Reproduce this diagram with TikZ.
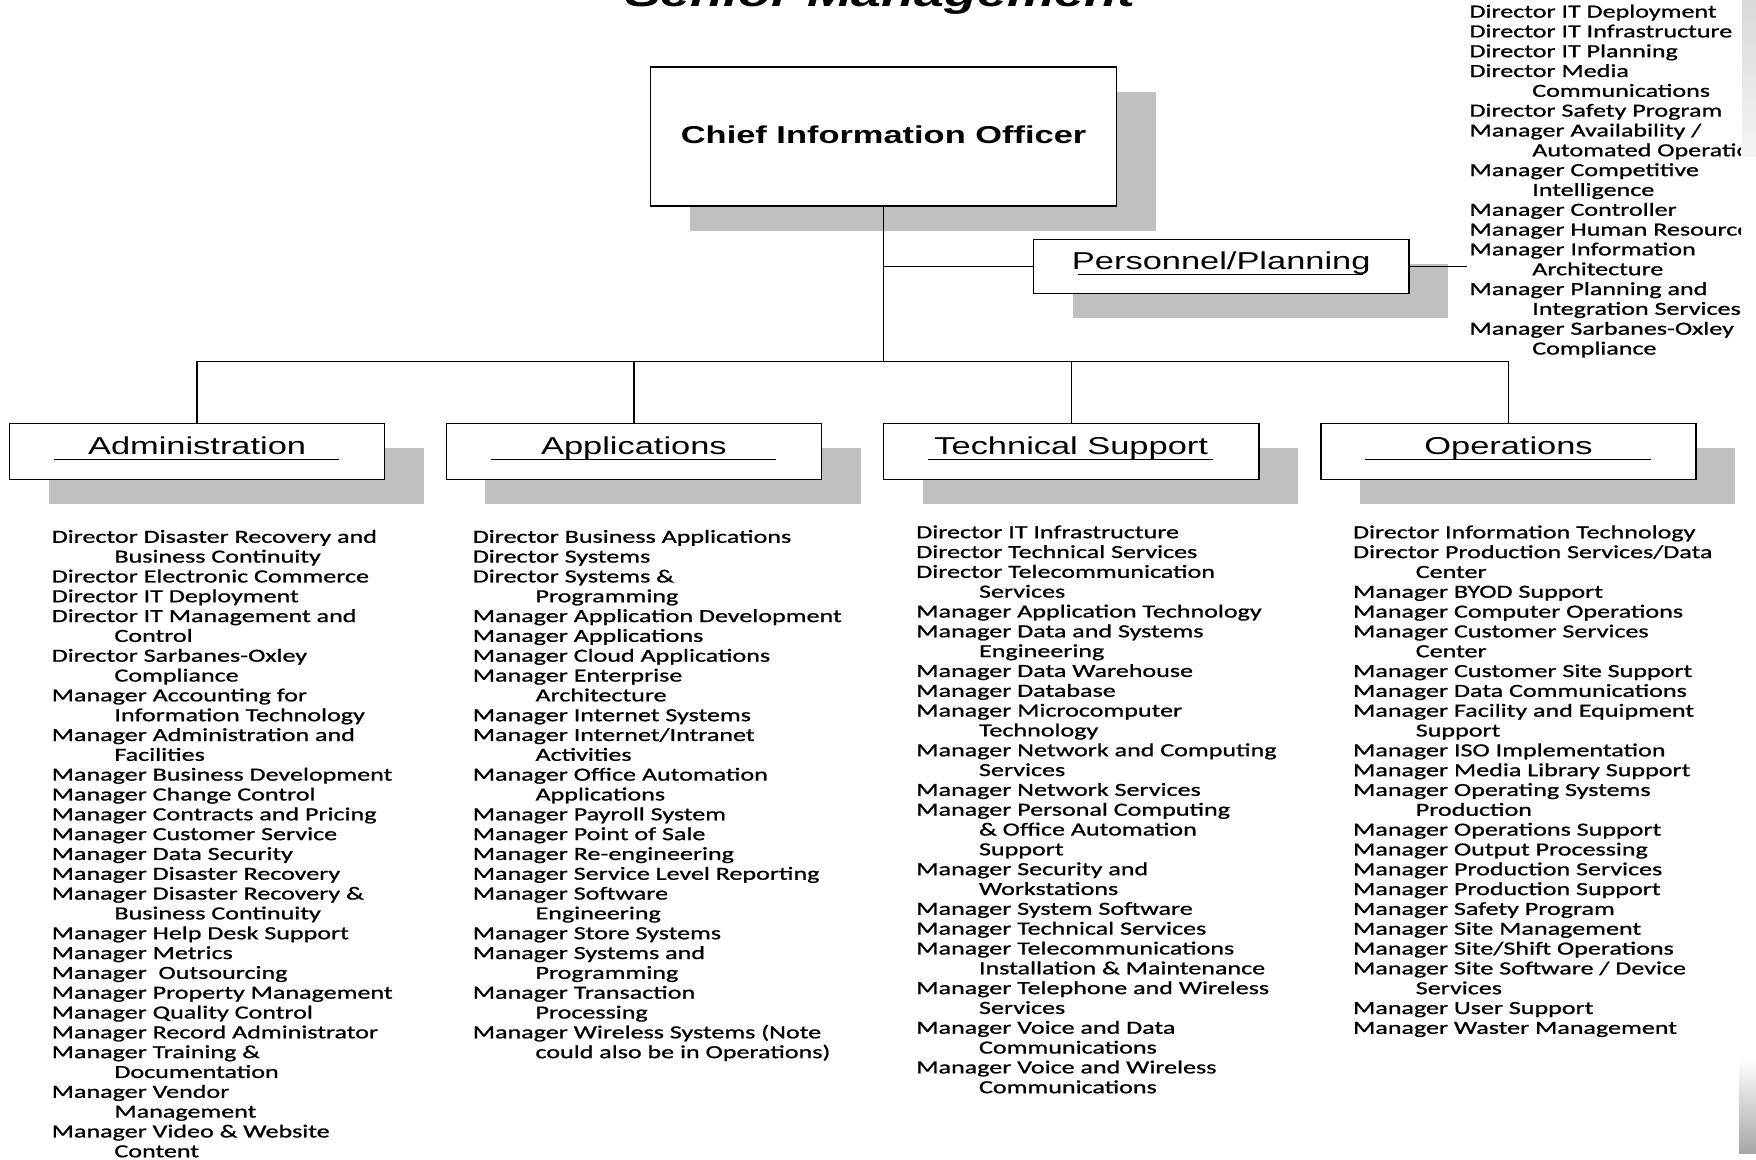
\documentclass[tikz,border=0pt]{standalone}
\usepackage{fontspec}
\usetikzlibrary{shadows}
\newfontfamily\boxfont[FakeStretch=1.41]{Liberation Sans}
\newfontfamily\listfont[FakeStretch=1.41,FakeBold=1]{Carlito}
\definecolor{shadowgray}{RGB}{192,192,192}
\newcommand{\ind}{\hspace*{56pt}}

\begin{document}
\begin{tikzpicture}[x=1pt, y=-1pt,
    unit/.style={draw, line width=1.3pt, fill=white, inner sep=0pt,
      minimum width=335pt, minimum height=50pt, text height=16pt, text depth=10pt,
      font=\boxfont\fontsize{21.8}{24}\selectfont,
      general shadow={fill=shadowgray, shadow xshift=35pt, shadow yshift=-22pt}},
    link/.style={line width=1.2pt},
    rule/.style={line width=1pt},
    duties/.style={anchor=north west, inner sep=0pt, align=left,
      font=\listfont\fontsize{16.5}{17.7}\selectfont}]
    \useasboundingbox (0,0) rectangle (1568,1035);
    \clip (0,0) rectangle (1568,1035);

    \node[anchor=base, font=\boxfont\bfseries\itshape\fontsize{34}{34}\selectfont] (title) at (786,5.5) {Senior Management};

    % boxes
    \node[unit, minimum width=416pt, minimum height=124pt, text depth=4pt, font=\boxfont\bfseries\fontsize{21.8}{24}\selectfont] (cio) at (789,122) {Chief Information Officer};
    \node[unit, minimum height=48pt] (pers) at (1090.5,238) {Personnel/Planning};
    \node[unit] (admin) at (176,403) {Administration};
    \node[unit] (apps) at (566,403) {Applications};
    \node[unit] (tech) at (956.5,403) {Technical Support};
    \node[unit] (ops) at (1347,403) {Operations};
    \foreach \n in {pers,admin,apps,tech,ops}
      \draw[rule] ([shift={(-128pt,-7.5pt)}]\n.center) -- ([shift={(127pt,-7.5pt)}]\n.center);

    % connectors
    \coordinate (hub) at (789,323);
    \coordinate (persend) at (1310,238);
    \draw[link] (cio.south) -- (hub);
    \draw[link] (admin.north) |- (hub) -| (ops.north);
    \draw[link] (apps.north) -- (apps.north |- hub);
    \draw[link] (tech.north) -- (tech.north |- hub);
    \draw[link] (cio.south |- pers.west) -- (pers.west);
    \draw[link] (pers.east) -- (persend);

    % lists
    \node[duties] (perslist) at (1312,4) {Director IT Deployment\\
      Director IT Infrastructure\\
      Director IT Planning\\
      Director Media\\
      \ind Communications\\
      Director Safety Program\\
      Manager Availability /\\
      \ind Automated Operations\\
      Manager Competitive\\
      \ind Intelligence\\
      Manager Controller\\
      Manager Human Resources\\
      Manager Information\\
      \ind Architecture\\
      Manager Planning and\\
      \ind Integration Services\\
      Manager Sarbanes-Oxley\\
      \ind Compliance};
    \node[duties] (adminlist) at (46,473) {Director Disaster Recovery and\\
      \ind Business Continuity\\
      Director Electronic Commerce\\
      Director IT Deployment\\
      Director IT Management and\\
      \ind Control\\
      Director Sarbanes-Oxley\\
      \ind Compliance\\
      Manager Accounting for\\
      \ind Information Technology\\
      Manager Administration and\\
      \ind Facilities\\
      Manager Business Development\\
      Manager Change Control\\
      Manager Contracts and Pricing\\
      Manager Customer Service\\
      Manager Data Security\\
      Manager Disaster Recovery\\
      Manager Disaster Recovery \&\\
      \ind Business Continuity\\
      Manager Help Desk Support\\
      Manager Metrics\\
      Manager \ Outsourcing\\
      Manager Property Management\\
      Manager Quality Control\\
      Manager Record Administrator\\
      Manager Training \&\\
      \ind Documentation\\
      Manager Vendor\\
      \ind Management\\
      Manager Video \& Website\\
      \ind Content};
    \node[duties] (appslist) at (422,473) {Director Business Applications\\
      Director Systems\\
      Director Systems \&\\
      \ind Programming\\
      Manager Application Development\\
      Manager Applications\\
      Manager Cloud Applications\\
      Manager Enterprise\\
      \ind Architecture\\
      Manager Internet Systems\\
      Manager Internet/Intranet\\
      \ind Activities\\
      Manager Office Automation\\
      \ind Applications\\
      Manager Payroll System\\
      Manager Point of Sale\\
      Manager Re-engineering\\
      Manager Service Level Reporting\\
      Manager Software\\
      \ind Engineering\\
      Manager Store Systems\\
      Manager Systems and\\
      \ind Programming\\
      Manager Transaction\\
      \ind Processing\\
      Manager Wireless Systems (Note\\
      \ind could also be in Operations)};
    \node[duties] (techlist) at (818,469) {Director IT Infrastructure\\
      Director Technical Services\\
      Director Telecommunication\\
      \ind Services\\
      Manager Application Technology\\
      Manager Data and Systems\\
      \ind Engineering\\
      Manager Data Warehouse\\
      Manager Database\\
      Manager Microcomputer\\
      \ind Technology\\
      Manager Network and Computing\\
      \ind Services\\
      Manager Network Services\\
      Manager Personal Computing\\
      \ind \& Office Automation\\
      \ind Support\\
      Manager Security and\\
      \ind Workstations\\
      Manager System Software\\
      Manager Technical Services\\
      Manager Telecommunications\\
      \ind Installation \& Maintenance\\
      Manager Telephone and Wireless\\
      \ind Services\\
      Manager Voice and Data\\
      \ind Communications\\
      Manager Voice and Wireless\\
      \ind Communications};
    \node[duties] (opslist) at (1208,469) {Director Information Technology\\
      Director Production Services/Data\\
      \ind Center\\
      Manager BYOD Support\\
      Manager Computer Operations\\
      Manager Customer Services\\
      \ind Center\\
      Manager Customer Site Support\\
      Manager Data Communications\\
      Manager Facility and Equipment\\
      \ind Support\\
      Manager ISO Implementation\\
      Manager Media Library Support\\
      Manager Operating Systems\\
      \ind Production\\
      Manager Operations Support\\
      Manager Output Processing\\
      Manager Production Services\\
      Manager Production Support\\
      Manager Safety Program\\
      Manager Site Management\\
      Manager Site/Shift Operations\\
      Manager Site Software / Device\\
      \ind Services\\
      Manager User Support\\
      Manager Waster Management};

    % right edge of the slide
    \fill[white] (1555,0) rectangle (1568,1035);
    \shade[top color=gray!30, bottom color=gray!8] (1556,0) rectangle (1568,140);
    \shade[top color=white, bottom color=gray!70] (1553,945) rectangle (1568,1030);
\end{tikzpicture}
\end{document}
